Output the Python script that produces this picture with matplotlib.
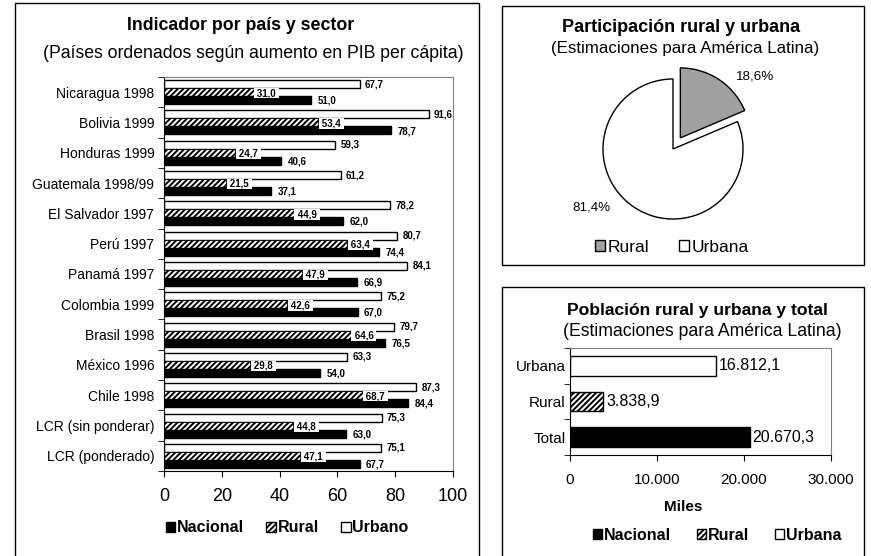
import numpy as np
import matplotlib
matplotlib.use("Agg")
import matplotlib.pyplot as plt
from matplotlib.patches import Rectangle, Patch
from matplotlib.ticker import FuncFormatter

plt.rcParams["font.family"] = ["Liberation Sans", "DejaVu Sans"]
plt.rcParams["hatch.linewidth"] = 1.4

# ===== data =====
paises = ["Nicaragua 1998", "Bolivia 1999", "Honduras 1999", "Guatemala 1998/99",
          "El Salvador 1997", "Perú 1997", "Panamá 1997", "Colombia 1999",
          "Brasil 1998", "México 1996", "Chile 1998", "LCR (sin ponderar)",
          "LCR (ponderado)"]
nacional = [51.0, 78.7, 40.6, 37.1, 62.0, 74.4, 66.9, 67.0, 76.5, 54.0, 84.4, 63.0, 67.7]
rural = [31.0, 53.4, 24.7, 21.5, 44.9, 63.4, 47.9, 42.6, 64.6, 29.8, 68.7, 44.8, 47.1]
urbano = [67.7, 91.6, 59.3, 61.2, 78.2, 80.7, 84.1, 75.2, 79.7, 63.3, 87.3, 75.3, 75.1]

pie_labels = ["Rural", "Urbana"]
pie_vals = [18.6, 81.4]

pob_cats = ["Urbana", "Rural", "Total"]
pob_vals = [16812.1, 3838.9, 20670.3]

W, H = 871, 556


def fx(px):
    return px / W


def fy(py):
    return 1 - py / H


def coma(v, dec=1):
    s = f"{v:,.{dec}f}"
    return s.replace(",", "X").replace(".", ",").replace("X", ".")


fig = plt.figure(figsize=(W / 100, H / 100), dpi=100)

# ===== panel frames =====
for (x0, y0, x1, y1) in [(15, 3, 479, 620), (502, 6, 864, 265), (502, 287, 864, 620)]:
    fig.add_artist(Rectangle((fx(x0), fy(y1)), fx(x1) - fx(x0), fy(y0) - fy(y1),
                             transform=fig.transFigure, fill=False,
                             edgecolor="black", lw=1.0, clip_on=False))

# ===== left: indicador por país =====
ax1 = fig.add_axes([fx(164), fy(471), fx(453) - fx(164), fy(77) - fy(471)])
n = len(paises)
y = np.arange(n)
h = 0.264
ax1.barh(y - h, urbano, h, color="white", edgecolor="black", lw=1)
ax1.barh(y, rural, h, color="white", edgecolor="black", lw=0.6, hatch="//////")
ax1.barh(y + h, nacional, h, color="black", edgecolor="black", lw=1)

for yi, v in zip(y, urbano):
    ax1.text(v + 1.8, yi - h, coma(v), fontsize=7, fontweight="bold", va="center")
for yi, v in zip(y, rural):
    ax1.text(v + 0.3, yi + 0.03, " " + coma(v) + " ", fontsize=7, fontweight="bold",
             va="center", bbox=dict(facecolor="white", edgecolor="none", pad=0.2))
for yi, v in zip(y, nacional):
    ax1.text(v + 2.2, yi + h + 0.02, coma(v), fontsize=7, fontweight="bold", va="center")

ax1.set_xlim(0, 100)
ax1.set_ylim(n - 0.5, -0.5)
ax1.set_yticks(y)
ax1.set_yticklabels(paises, fontsize=10)
ax1.set_yticks(np.arange(-0.5, n, 1), minor=True)
ax1.tick_params(axis="y", which="major", length=0, pad=7)
ax1.tick_params(axis="y", which="minor", length=4, direction="out")
ax1.set_xticks(np.arange(0, 101, 20))
ax1.tick_params(axis="x", length=4, direction="out", labelsize=13, pad=8)
for s in ["top", "right"]:
    ax1.spines[s].set_color("#808080")

fig.text(fx(241), fy(26), "Indicador por país y sector", fontsize=12.8,
         fontweight="bold", ha="center", va="center")
fig.text(fx(253), fy(53), "(Países ordenados según aumento en PIB per cápita)",
         fontsize=12.7, ha="center", va="center")

leg_handles = [Patch(facecolor="black", edgecolor="black"),
               Patch(facecolor="white", edgecolor="black", hatch="//////"),
               Patch(facecolor="white", edgecolor="black")]
fig.legend(leg_handles, ["Nacional", "Rural", "Urbano"], loc="center",
           bbox_to_anchor=(fx(287), fy(528)), ncol=3, frameon=False,
           handlelength=0.6, handleheight=0.6, handletextpad=0.1,
           columnspacing=1.4, prop=dict(size=11.5, weight="bold"))

# ===== top right: pie =====
R = 70
half = R * 1.3
ax2 = fig.add_axes([fx(673 - half), fy(149 + half), fx(2 * half), (2 * half) / H])
wedges, _ = ax2.pie(pie_vals, colors=["#a0a0a0", "white"], startangle=90,
                    counterclock=False, explode=[0.19, 0],
                    wedgeprops=dict(edgecolor="black", lw=1))
ax2.set_xlim(-1.3, 1.3)
ax2.set_ylim(-1.3, 1.3)
ax2.set_aspect("equal")
ax2.text(1.17, 1.03, coma(pie_vals[0]) + "%", fontsize=9.6, ha="center", va="center")
ax2.text(-1.16, -0.83, coma(pie_vals[1]) + "%", fontsize=9.6, ha="center", va="center")

fig.text(fx(681), fy(27), "Participación rural y urbana", fontsize=13,
         fontweight="bold", ha="center", va="center")
fig.text(fx(685), fy(48), "(Estimaciones para América Latina)", fontsize=12.2,
         ha="center", va="center")
fig.legend(wedges, pie_labels, loc="center", bbox_to_anchor=(fx(672), fy(247)),
           ncol=2, frameon=False, handlelength=0.6, handleheight=0.6,
           handletextpad=0.15, columnspacing=1.7, prop=dict(size=12.5))

# ===== bottom right: población =====
ax3 = fig.add_axes([fx(570), fy(455), fx(831) - fx(570), fy(348) - fy(455)])
yp = np.arange(len(pob_cats))
ax3.barh(yp, pob_vals, 0.56, color=["white", "white", "black"], edgecolor="black",
         lw=1, hatch=[None, "//////", None])
for yi, v in zip(yp, pob_vals):
    ax3.text(v + 300, yi, coma(v), fontsize=11.5, va="center")
ax3.set_xlim(0, 30000)
ax3.set_ylim(len(pob_cats) - 0.5, -0.5)
ax3.set_yticks(yp)
ax3.set_yticklabels(pob_cats, fontsize=11)
ax3.set_yticks(np.arange(-0.5, len(pob_cats), 1), minor=True)
ax3.tick_params(axis="y", which="major", length=0, pad=3)
ax3.tick_params(axis="y", which="minor", length=4, direction="out")
ax3.set_xticks([0, 10000, 20000, 30000])
ax3.xaxis.set_major_formatter(FuncFormatter(lambda v, p: coma(v, 0)))
ax3.tick_params(axis="x", length=4, direction="out", labelsize=11, pad=9)
ax3.set_xlabel("Miles", fontsize=11, fontweight="bold")
ax3.xaxis.set_label_coords((683 - 570) / (831 - 570), -(500 - 455) / (455 - 348))
for s in ["top", "right"]:
    ax3.spines[s].set_color("#808080")

fig.text(fx(697), fy(310), "Población rural y urbana y total", fontsize=12.6,
         fontweight="bold", ha="center", va="center")
fig.text(fx(702), fy(332), "(Estimaciones para América Latina)", fontsize=12.7,
         ha="center", va="center")
fig.legend(leg_handles, ["Nacional", "Rural", "Urbana"], loc="center",
           bbox_to_anchor=(fx(717), fy(535)), ncol=3, frameon=False,
           handlelength=0.6, handleheight=0.6, handletextpad=0.1,
           columnspacing=1.6, prop=dict(size=11.5, weight="bold"))

fig.savefig("out.png", dpi=100)
